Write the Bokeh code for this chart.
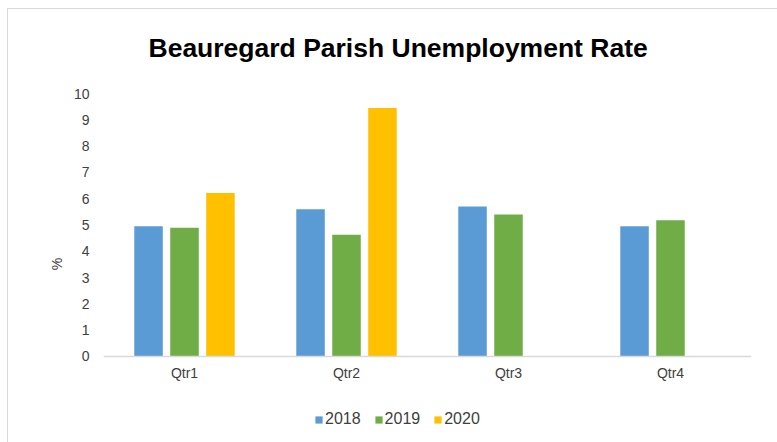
import numpy as np
from bokeh.plotting import figure
from bokeh.models import ColumnDataSource, FactorRange, Legend, LegendItem, Range1d
from bokeh.transform import dodge
from bokeh.embed import file_html
from bokeh.resources import INLINE

quarters = ["Qtr1", "Qtr2", "Qtr3", "Qtr4"]
years = ["2018", "2019", "2020"]
v2018 = [4.95, 5.6, 5.7, 4.95]
v2019 = [4.9, 4.63, 5.4, 5.18]
v2020 = [6.22, 9.45, np.nan, np.nan]
colors = ["#5B9BD5", "#70AD47", "#FFC000"]
y_ticks = list(range(0, 11))

src = ColumnDataSource(dict(q=quarters, y2018=v2018, y2019=v2019, y2020=v2020))

FONT = "Liberation Sans"
p = figure(x_range=FactorRange(*quarters, range_padding=0), y_range=Range1d(-2.966, 10),
           width=777, height=442, output_backend="svg", toolbar_location=None,
           title="Beauregard Parish Unemployment Rate",
           min_border_left=103, min_border_right=26, min_border_top=93, min_border_bottom=8)
p.styles = {"background-color": "white",
            "box-shadow": "inset 7px 8px 0 0 #ffffff, inset 8px 9px 0 0 #d9d9d9"}
p.outline_line_color = None
p.background_fill_color = None
p.border_fill_color = None
p.xgrid.grid_line_color = None
p.ygrid.grid_line_color = None

p.title.align = "left"
p.title.text_font = FONT
p.title.text_font_size = "26.5px"
p.title.text_font_style = "bold"
p.title.text_color = "black"
p.title.offset = 45
p.title.standoff = 61

renderers = []
for col, off, c in zip(["y2018", "y2019", "y2020"], [-0.222, 0.0, 0.222], colors):
    r = p.vbar(x=dodge("q", off, range=p.x_range), top=col, width=0.176, source=src,
               fill_color=c, line_color=None)
    renderers.append(r)

p.yaxis.ticker = y_ticks
p.yaxis.axis_line_color = None
p.yaxis.major_tick_line_color = None
p.yaxis.minor_tick_line_color = None
p.yaxis.major_label_standoff = 8
p.yaxis.major_label_text_font = FONT
p.yaxis.major_label_text_font_size = "14px"
p.yaxis.major_label_text_color = "#404040"
p.yaxis.axis_label = "%"
p.yaxis.axis_label_text_font = FONT
p.yaxis.axis_label_text_font_style = "normal"
p.yaxis.axis_label_text_font_size = "14px"
p.yaxis.axis_label_text_color = "#404040"
p.yaxis.axis_label_standoff = 6

p.xaxis.fixed_location = 0
p.xaxis.axis_line_color = "#D9D9D9"
p.xaxis.axis_line_width = 1.5
p.xaxis.major_tick_line_color = None
p.xaxis.minor_tick_line_color = None
p.xaxis.major_label_standoff = 3
p.xaxis.major_label_text_font = FONT
p.xaxis.major_label_text_font_size = "14px"
p.xaxis.major_label_text_color = "#404040"

legend = Legend(items=[LegendItem(label=y, renderers=[r]) for y, r in zip(years, renderers)],
                orientation="horizontal", location=(211, 6),
                glyph_width=9, glyph_height=9, label_standoff=2, spacing=13,
                label_text_font=FONT, label_text_font_size="16px", label_text_color="#404040",
                border_line_color=None, background_fill_alpha=0, padding=0, margin=0)
p.add_layout(legend)

open("out.html", "w").write(file_html(p, INLINE))
